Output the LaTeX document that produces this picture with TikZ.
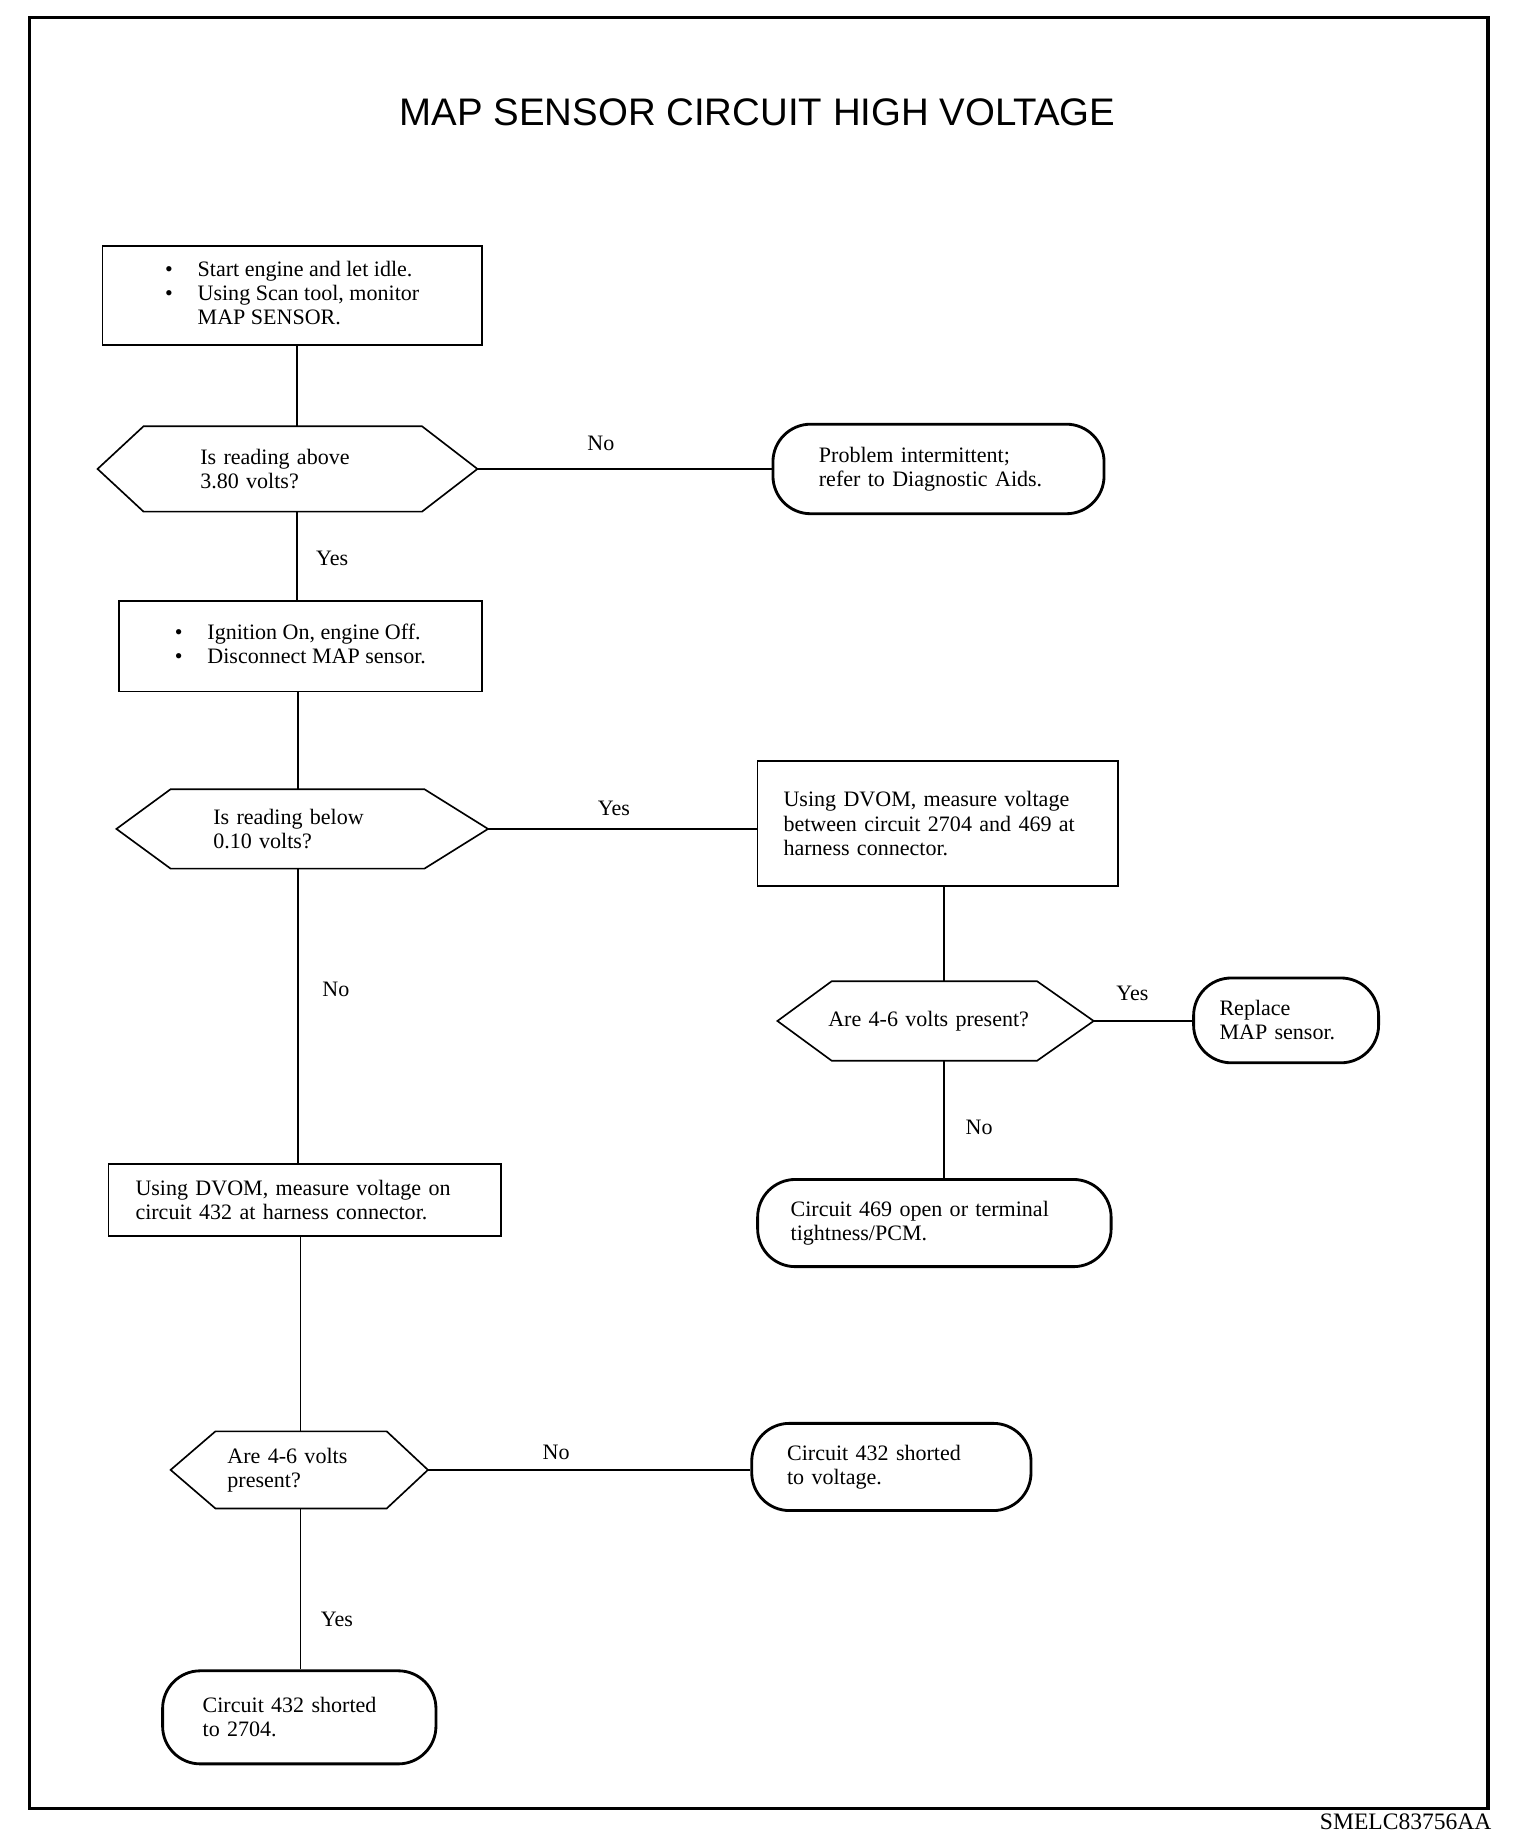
\documentclass[tikz,border=0pt]{standalone}
\usepackage{fontspec}
\setmainfont{Liberation Serif}
\newfontfamily\titlefont{Liberation Sans}
\usetikzlibrary{calc}
\newcommand\bodyf{\fontsize{18.7}{20.5}\selectfont}
\newcommand\hexo[3]{\draw[hexline] (#1.west) -- ([xshift=#2]#1.north west) -- ([xshift=-#3]#1.north east) -- (#1.east) -- ([xshift=-#3]#1.south east) -- ([xshift=#2]#1.south west) -- cycle;}
\newcommand\vconn[3]{\draw[conn] ([xshift=#3]#1.south) coordinate (tmp) -- (tmp |- #2.north);}
\newcommand\hconn[2]{\draw[conn] (#1.east) -- (#1.east -| #2.west);}
\begin{document}
\begin{tikzpicture}[x=1pt,y=-1pt,
  box/.style={draw, line width=1.4pt, rectangle, inner ysep=0pt, align=left, font=\bodyf},
  term/.style={draw, line width=2.4pt, rectangle, rounded corners=32pt, inner ysep=0pt, align=left, font=\bodyf},
  dec/.style={draw=none, rectangle, inner ysep=0pt, align=left, font=\bodyf},
  hexline/.style={line width=1.4pt, line join=miter},
  conn/.style={line width=1.3pt},
  lbl/.style={font=\bodyf, inner sep=0pt}]
\useasboundingbox (0,0) rectangle (1290,1565);
\draw[line width=3pt] (25,15) rectangle (1263,1535);
\node[font=\titlefont\fontsize{32.6}{36}\selectfont, inner sep=0pt] (title) at (643,95) {MAP SENSOR CIRCUIT HIGH VOLTAGE};

\node[box, minimum width=322, minimum height=84] (b1) at (248,251)
  {\begin{tabular}{@{}l@{\hspace{21pt}}l@{}}\textbullet & Start engine and let idle.\\ \textbullet & Using Scan tool, monitor\\ & MAP SENSOR.\end{tabular}};
\node[dec, text width=148, inner xsep=87, minimum height=72] (d1) at (244,398) {Is reading above\\3.80 volts?};
\hexo{d1}{39}{47}
\node[term, text width=203, inner xsep=39, minimum height=76] (t1) at (796.5,398) {Problem intermittent;\\refer to Diagnostic Aids.};
\node[box, minimum width=308, minimum height=77] (b2) at (255,548.5)
  {\begin{tabular}{@{}l@{\hspace{21pt}}l@{}}\textbullet & Ignition On, engine Off.\\ \textbullet & Disconnect MAP sensor.\end{tabular}};
\node[dec, text width=151, inner xsep=82, minimum height=67] (d2) at (256.5,703.5) {Is reading below\\0.10 volts?};
\hexo{d2}{46}{54}
\node[box, text width=262, inner xsep=22, minimum height=106] (b3) at (796,699) {Using DVOM, measure voltage\\between circuit 2704 and 469 at\\harness connector.};
\node[dec, text width=182, inner xsep=43, minimum height=67] (d3) at (794,866.5) {Are 4-6 volts present?};
\hexo{d3}{46}{48}
\node[term, text width=113, inner xsep=22, minimum height=72] (t2) at (1091.5,866) {Replace\\MAP sensor.};
\node[term, text width=244, inner xsep=28, minimum height=74] (t3) at (793,1038) {Circuit 469 open or terminal\\tightness/PCM.};
\node[box, text width=287, inner xsep=23, minimum height=61] (b4) at (258.5,1018.5) {Using DVOM, measure voltage on\\circuit 432 at harness connector.};
\node[dec, text width=122, inner xsep=48, minimum height=65] (d4) at (254,1247.5) {Are 4-6 volts\\present?};
\hexo{d4}{38}{35}
\node[term, text width=177, inner xsep=30, minimum height=74] (t4) at (756.5,1245) {Circuit 432 shorted\\to voltage.};
\node[term, text width=164, inner xsep=34, minimum height=79] (t5) at (254,1457.5) {Circuit 432 shorted\\to 2704.};

\vconn{b1}{d1}{4}
\vconn{d1}{b2}{8}
\hconn{d1}{t1}
\vconn{b2}{d2}{-2}
\hconn{d2}{b3}
\vconn{d2}{b4}{-3.5}
\vconn{b3}{d3}{5}
\hconn{d3}{t2}
\vconn{d3}{t3}{7}
\vconn{b4}{d4}{-3.5}
\hconn{d4}{t4}
\vconn{d4}{t5}{1}

\node[lbl] (l1) at (510,376) {No};
\node[lbl] (l2) at (282,474) {Yes};
\node[lbl] (l3) at (521,686) {Yes};
\node[lbl] (l4) at (285,840) {No};
\node[lbl] (l5) at (961,843) {Yes};
\node[lbl] (l6) at (831,957) {No};
\node[lbl] (l7) at (472,1233) {No};
\node[lbl] (l8) at (286,1374) {Yes};

\node[font=\fontsize{20}{22}\selectfont, anchor=east, inner sep=0pt] (code) at (1266,1546) {SMELC83756AA};
\end{tikzpicture}
\end{document}
